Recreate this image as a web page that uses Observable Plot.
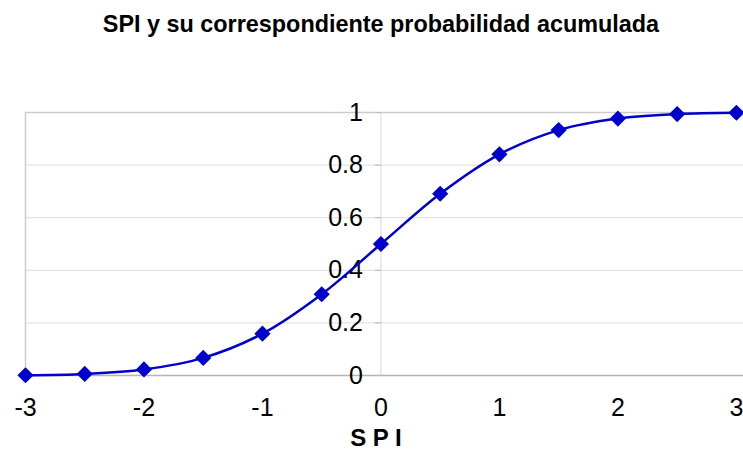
<!DOCTYPE html>
<html>
<head>
<meta charset="utf-8">
<script src="https://cdn.jsdelivr.net/npm/d3@7"></script>
<script src="https://cdn.jsdelivr.net/npm/@observablehq/plot@0.6"></script>
<style>
  html, body { margin: 0; padding: 0; background: #fff; }
  svg { display: block; }
</style>
</head>
<body>
<div id="chart"></div>
<script>
const titulo = "SPI y su correspondiente probabilidad acumulada";
const xLabel = "S P I";
const spi = [-3, -2.5, -2, -1.5, -1, -0.5, 0, 0.5, 1, 1.5, 2, 2.5, 3];
const prob = [0.001, 0.006, 0.023, 0.067, 0.159, 0.309, 0.5, 0.691, 0.841, 0.933, 0.977, 0.994, 0.999];
const xTicks = [-3, -2, -1, 0, 1, 2, 3];
const yTicks = [0, 0.2, 0.4, 0.6, 0.8, 1];

const data = spi.map((x, i) => ({x, y: prob[i]}));
const font = "'Liberation Sans', Arial, sans-serif";
const blue = "#0000cc";
const tickSymbol = {draw(ctx) { ctx.moveTo(-6, 0); ctx.lineTo(0, 0); }};

const chart = Plot.plot({
  width: 743,
  height: 457,
  marginLeft: 25,
  marginRight: 0,
  marginTop: 112,
  marginBottom: 82,
  style: {fontFamily: font, background: "#fff"},
  x: {domain: [-3, 3.06], axis: null},
  y: {domain: [0, 1], axis: null},
  marks: [
    Plot.ruleY(yTicks.filter(d => d > 0 && d < 1), {stroke: "#e4e4e4", strokeWidth: 1.2}),
    Plot.ruleY([1], {stroke: "#cccccc", strokeWidth: 1.5}),
    Plot.ruleX([-3], {stroke: "#cccccc", strokeWidth: 1.5}),
    Plot.ruleX([0], {stroke: "#d6d6d6", strokeWidth: 1}),
    Plot.dot(yTicks, {x: 0, y: d => d, symbol: tickSymbol, stroke: "#bbbbbb", fill: "none", strokeWidth: 1}),
    Plot.ruleY([0], {stroke: "#b4b4b4", strokeWidth: 1.5}),
    Plot.text(yTicks, {x: 0, y: d => d, text: d => String(d), textAnchor: "end", dx: -18, fontSize: 25, fill: "#000"}),
    Plot.text(xTicks, {x: d => d, text: d => String(d), frameAnchor: "bottom", dy: 40, fontSize: 25, fill: "#000"}),
    Plot.text([xLabel], {x: 0, frameAnchor: "bottom", dx: -5, dy: 70, fontSize: 24, fontWeight: "bold", fill: "#000"}),
    Plot.text([titulo], {x: 0, frameAnchor: "top", dy: -97, fontSize: 23.4, fontWeight: "bold", fill: "#000"}),
    Plot.line(data, {x: "x", y: "y", curve: "catmull-rom", stroke: blue, strokeWidth: 2.5}),
    Plot.dot(data, {x: "x", y: "y", symbol: "diamond2", r: 7.3, fill: blue, stroke: "none"})
  ]
});
document.getElementById("chart").appendChild(chart);
</script>
</body>
</html>
